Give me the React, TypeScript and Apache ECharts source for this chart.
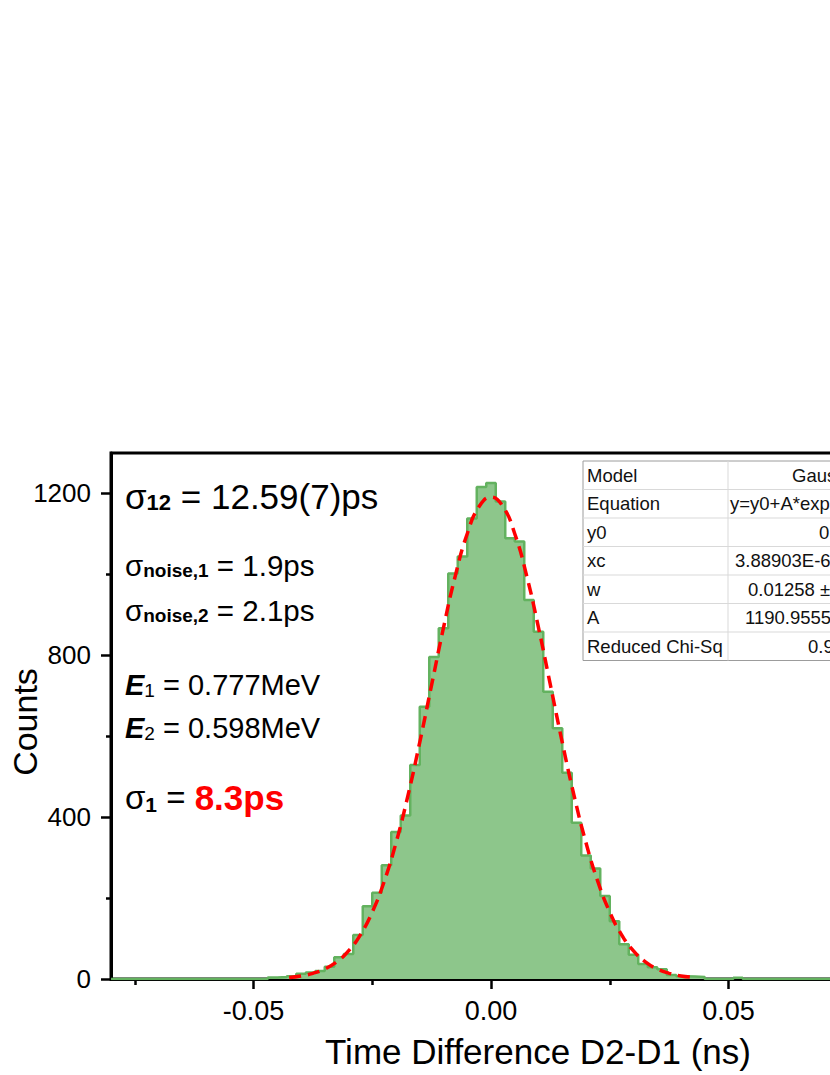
import React, { useEffect, useRef } from "react";
import * as echarts from "echarts";

// ---- data ----
const binCenters = [
  -0.048, -0.046, -0.044, -0.042, -0.04, -0.038, -0.036, -0.034, -0.032, -0.03,
  -0.028, -0.026, -0.024, -0.022, -0.02, -0.018, -0.016, -0.014, -0.012, -0.01,
  -0.008, -0.006, -0.004, -0.002, 0.0, 0.002, 0.004, 0.006, 0.008, 0.01,
  0.012, 0.014, 0.016, 0.018, 0.02, 0.022, 0.024, 0.026, 0.028, 0.03,
  0.032, 0.034, 0.036, 0.038, 0.04, 0.042, 0.044, 0.046, 0.052, 0.054,
];
const binCounts = [
  0, 4, 5, 7, 13, 16, 20, 30, 54, 62,
  109, 180, 213, 281, 363, 404, 529, 673, 796, 867,
  1002, 1044, 1138, 1216, 1226, 1180, 1089, 1081, 937, 858,
  710, 620, 510, 386, 305, 273, 205, 143, 86, 60,
  37, 29, 24, 10, 7, 6, 5, 0, 3, 0,
];
const binWidth = 0.002;

const fitX = [
  -0.0425, -0.04, -0.0375, -0.035, -0.0325, -0.03, -0.0275, -0.025, -0.0225, -0.02,
  -0.0175, -0.015, -0.0125, -0.01, -0.0075, -0.005, -0.0025, 0.0, 0.0025, 0.005,
  0.0075, 0.01, 0.0125, 0.015, 0.0175, 0.02, 0.0225, 0.025, 0.0275, 0.03,
  0.0325, 0.035, 0.0375, 0.04, 0.0425,
];
const fitY = [
  4, 7.6, 14, 24.8, 42.3, 69.3, 109.2, 165.3, 240.6, 336.6,
  452.6, 585, 727, 868.4, 997.1, 1100.5, 1167.7, 1191, 1167.7, 1100.5,
  997.1, 868.4, 727, 585, 452.6, 336.6, 240.6, 165.3, 109.2, 69.3,
  42.3, 24.8, 14, 7.6, 4,
];

const xMin = -0.08;
const xMax = 0.1;
const yMin = 0;
const yMax = 1300;
const xTickValues = [-0.05, 0, 0.05];
const xMinorTickValues = [-0.075, -0.025, 0.025, 0.075];
const yTickValues = [0, 400, 800, 1200];
const yMinorTickValues = [200, 600, 1000];

const xAxisTitle = "Time Difference D2-D1 (ns)";
const yAxisTitle = "Counts";

const tableLabels = ["Model", "Equation", "y0", "xc", "w", "A", "Reduced Chi-Sq"];
const tableValues = ["Gauss", "y=y0+A*exp", "0", "3.88903E-6 \u00b1", "0.01258 \u00b1", "1190.9555", "0.9"];

// ---- layout ----
const FONT = "'Liberation Sans', Arial, Helvetica, sans-serif";
const VIEW_W = 830;
const VIEW_H = 1075;
const CHART_W = 1000; // the plot continues past the right edge of the view, as in the reference
const tableValueX = [792, 730, 819, 735, 748, 745, 808];
const TABLE_X = 583;
const TABLE_Y = 461;
const TABLE_ROW = 28.5;
const TABLE_COL = 728;
const TABLE_FS = 18.5;

function buildTable(): any[] {
  const els: any[] = [];
  const h = TABLE_ROW * tableLabels.length;
  els.push({
    type: "rect",
    shape: { x: TABLE_X, y: TABLE_Y, width: 360, height: h },
    style: { fill: "#ffffff", stroke: "#9c9c9c", lineWidth: 1 },
    z: 20,
  });
  for (let i = 1; i < tableLabels.length; i++) {
    els.push({
      type: "line",
      shape: { x1: TABLE_X, y1: TABLE_Y + TABLE_ROW * i, x2: TABLE_X + 360, y2: TABLE_Y + TABLE_ROW * i },
      style: { stroke: "#d9d9d9", lineWidth: 1 },
      z: 21,
    });
  }
  els.push({
    type: "line",
    shape: { x1: TABLE_COL, y1: TABLE_Y, x2: TABLE_COL, y2: TABLE_Y + h },
    style: { stroke: "#d9d9d9", lineWidth: 1 },
    z: 21,
  });
  tableLabels.forEach((lab, i) => {
    const cy = TABLE_Y + TABLE_ROW * (i + 0.5);
    els.push({
      type: "text",
      x: TABLE_X + 4,
      y: cy,
      z: 22,
      style: { text: lab, fontSize: TABLE_FS, fontFamily: FONT, fill: "#111", align: "left", verticalAlign: "middle" },
    });
    els.push({
      type: "text",
      x: tableValueX[i],
      y: cy,
      z: 22,
      style: { text: tableValues[i], fontSize: TABLE_FS, fontFamily: FONT, fill: "#111", align: "left", verticalAlign: "middle" },
    });
  });
  return els;
}

function richLine(x: number, y: number, text: string, rich: any) {
  return {
    type: "text",
    x,
    y,
    z: 30,
    style: { text, rich, fontFamily: FONT, fill: "#000", align: "left", verticalAlign: "middle" },
  };
}

function buildAnnotations(): any[] {
  const main = (fs: number) => ({ fontSize: fs, lineHeight: fs, fontFamily: FONT, fill: "#000", verticalAlign: "middle" });
  const sub = (fs: number, lh: number, bold: boolean) => ({
    fontSize: fs,
    lineHeight: lh,
    fontFamily: FONT,
    fontWeight: bold ? "bold" : "normal",
    fill: "#000",
    verticalAlign: "bottom",
  });
  const bigE = { fontSize: 29, lineHeight: 29, fontFamily: FONT, fontWeight: "bold", fontStyle: "italic", fill: "#000", verticalAlign: "middle" };
  return [
    richLine(125, 496, "{s|\u03c3}{b|12}{m| = 12.59(7)ps}", { s: main(35), b: sub(22, 10, true), m: main(35) }),
    richLine(125, 565, "{s|\u03c3}{b|noise,1}{m| = 1.9ps}", { s: main(29.5), b: sub(19, 9, true), m: main(29.5) }),
    richLine(125, 610, "{s|\u03c3}{b|noise,2}{m| = 2.1ps}", { s: main(29.5), b: sub(19, 9, true), m: main(29.5) }),
    richLine(125, 685, "{e|E}{n|1}{m| = 0.777MeV}", { e: bigE, n: sub(19, 5, false), m: main(29) }),
    richLine(125, 728, "{e|E}{n|2}{m| = 0.598MeV}", { e: bigE, n: sub(19, 5, false), m: main(29) }),
    richLine(125, 797, "{s|\u03c3}{b|1}{m| = }{r|8.3ps}", {
      s: main(33),
      b: sub(21, 5, true),
      m: main(33),
      r: { fontSize: 35, lineHeight: 35, fontFamily: FONT, fontWeight: "bold", fill: "#ff0000", verticalAlign: "middle" },
    }),
  ];
}

export default function App() {
  const ref = useRef<HTMLDivElement>(null);
  useEffect(() => {
    if (!ref.current) return;
    const chart = echarts.init(ref.current, null, { renderer: "svg" });

    const histPoints: number[][] = [[xMin, 0]];
    binCenters.forEach((c, i) => histPoints.push([c - binWidth / 2, binCounts[i]]));
    histPoints.push([xMax, 0]);
    const fitPoints = fitX.map((x, i) => [x, fitY[i]]);

    const axisLineStyle = { color: "#000", width: 3 };
    const option: any = {
      animation: false,
      backgroundColor: "#ffffff",
      textStyle: { fontFamily: FONT },
      grid: {
        left: 111,
        top: 453,
        bottom: 96,
        right: CHART_W - 966,
        show: true,
        borderColor: "#000",
        borderWidth: 3,
        backgroundColor: "transparent",
      },
      xAxis: [
        {
          type: "value",
          min: xMin,
          max: xMax,
          position: "bottom",
          axisLine: { show: true, onZero: false, lineStyle: axisLineStyle },
          axisTick: { show: true, inside: false, length: 10, lineStyle: { color: "#000", width: 2.5 }, customValues: xTickValues },
          axisLabel: {
            show: true,
            customValues: xTickValues,
            formatter: (v: number) => v.toFixed(2),
            fontSize: 27,
            color: "#000",
            margin: 18,
            fontFamily: FONT,
          },
          splitLine: { show: false },
        },
        {
          type: "value",
          min: xMin,
          max: xMax,
          position: "bottom",
          axisLine: { show: false, onZero: false },
          axisTick: { show: true, inside: false, length: 6, lineStyle: { color: "#000", width: 2.5 }, customValues: xMinorTickValues },
          axisLabel: { show: false },
          splitLine: { show: false },
        },
      ],
      yAxis: [
        {
          type: "value",
          min: yMin,
          max: yMax,
          position: "left",
          axisLine: { show: true, onZero: false, lineStyle: axisLineStyle },
          axisTick: { show: true, inside: false, length: 10, lineStyle: { color: "#000", width: 2.5 }, customValues: yTickValues },
          axisLabel: {
            show: true,
            customValues: yTickValues,
            formatter: (v: number) => String(v),
            fontSize: 26,
            color: "#000",
            margin: 20,
            fontFamily: FONT,
          },
          splitLine: { show: false },
        },
        {
          type: "value",
          min: yMin,
          max: yMax,
          position: "left",
          axisLine: { show: false, onZero: false },
          axisTick: { show: true, inside: false, length: 5, lineStyle: { color: "#000", width: 2.5 }, customValues: yMinorTickValues },
          axisLabel: { show: false },
          splitLine: { show: false },
        },
      ],
      series: [
        {
          type: "line",
          name: "Counts",
          xAxisIndex: 0,
          yAxisIndex: 0,
          data: histPoints,
          step: "end",
          symbol: "none",
          showSymbol: false,
          lineStyle: { color: "#63b25f", width: 2.5 },
          areaStyle: { color: "#8dc68b", opacity: 1 },
          z: 2,
        },
        {
          type: "line",
          name: "Gauss fit",
          xAxisIndex: 0,
          yAxisIndex: 0,
          data: fitPoints,
          smooth: true,
          symbol: "none",
          showSymbol: false,
          lineStyle: { color: "#ff0000", width: 3.5, type: [12, 7] },
          z: 3,
        },
      ],
      graphic: [
        ...buildTable(),
        ...buildAnnotations(),
        {
          type: "text",
          x: 538,
          y: 1051,
          z: 30,
          style: { text: xAxisTitle, fontSize: 35, fontFamily: FONT, fill: "#000", align: "center", verticalAlign: "middle" },
        },
        {
          type: "text",
          x: 25,
          y: 722,
          rotation: Math.PI / 2,
          z: 30,
          style: { text: yAxisTitle, fontSize: 34, fontFamily: FONT, fill: "#000", align: "center", verticalAlign: "middle" },
        },
      ],
    };
    chart.setOption(option);
    return () => chart.dispose();
  }, []);
  return (
    <div style={{ position: "absolute", left: 0, top: 0, width: VIEW_W, height: VIEW_H, overflow: "hidden", background: "#fff" }}>
      <div ref={ref} style={{ width: CHART_W, height: VIEW_H }} />
    </div>
  );
}
